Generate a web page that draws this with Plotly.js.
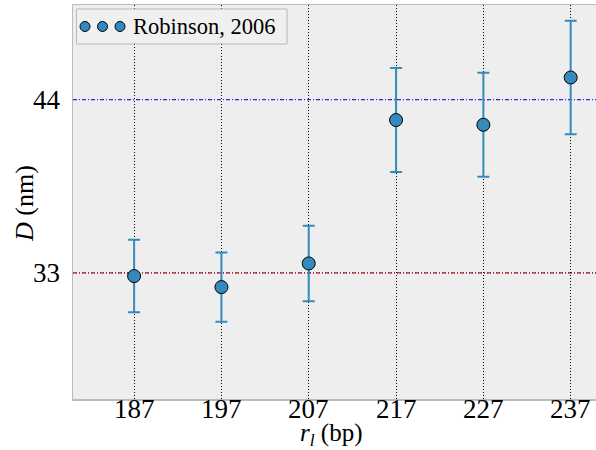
<!DOCTYPE html>
<html>
<head>
<meta charset="utf-8">
<script src="https://cdn.plot.ly/plotly-3.0.1.min.js"></script>
<style>
  html, body { margin: 0; padding: 0; background: #ffffff; }
  #chart { width: 596px; height: 450px; }
</style>
</head>
<body>
<div id="chart"></div>
<script>
// Loop length r_l (bp) and measured diameter D (nm) with symmetric errors
const loopLengths = [187, 197, 207, 217, 227, 237];
const diameters   = [32.8, 32.1, 33.6, 42.7, 42.4, 45.4];
const diamErrors  = [2.3, 2.2, 2.4, 3.3, 3.3, 3.6];
const seriesName  = "Robinson, 2006";

// Reference levels drawn as dash-dot lines
const refLevels = [44, 33];
const refColors = ["#2828f0", "#b01a2a"];

const xTicks = [187, 197, 207, 217, 227, 237];
const yTicks = [33, 44];

const W = 596, H = 450;
const M = { l: 73, r: 0, t: 5, b: 51 };
const PW = W - M.l - M.r, PH = H - M.t - M.b;
const px = x => (x - M.l) / PW;
const py = y => (H - M.b - y) / PH;

const FONT = "Liberation Serif, Times New Roman, serif";
const BLUE = "#348ABD";

const trace = {
  x: loopLengths,
  y: diameters,
  name: seriesName,
  type: "scatter",
  mode: "markers",
  marker: { size: 13, color: BLUE, line: { color: "#000000", width: 1 } },
  error_y: { type: "data", array: diamErrors, visible: true, color: BLUE, thickness: 2, width: 6 },
  showlegend: false,
  hoverinfo: "x+y"
};

// Dotted grid at 33 under its dash-dot level line; the 44 level carries its own line
const shapes = [{
  type: "line", xref: "paper", x0: 0, x1: 1, yref: "y", y0: yTicks[0], y1: yTicks[0],
  line: { color: "#000000", width: 1, dash: "1px,2px" }, layer: "below"
}];
refLevels.forEach((v, i) => {
  shapes.push({
    type: "line", xref: "paper", x0: 0, x1: 1, yref: "y", y0: v, y1: v,
    line: { color: refColors[i], width: 1.2, dash: "4px,2px,1px,2px" }, layer: "below"
  });
});

// Legend box with three sample markers
shapes.push({
  type: "rect", xref: "paper", yref: "paper",
  x0: px(76.5), x1: px(287), y0: py(44), y1: py(9),
  fillcolor: "#f0f0f0", line: { color: "#b8b8b8", width: 1 }, layer: "above"
});
[85, 102.5, 120].forEach(cx => {
  shapes.push({
    type: "circle", xref: "paper", yref: "paper",
    x0: px(cx - 5), x1: px(cx + 5), y0: py(31.5), y1: py(21.5),
    fillcolor: BLUE, line: { color: "#000000", width: 1 }, layer: "above"
  });
});

const annotations = [
  {
    xref: "paper", yref: "paper", x: px(131), y: py(26.5),
    xanchor: "left", yanchor: "middle", showarrow: false,
    text: seriesName, font: { family: FONT, size: 22.5, color: "#000000" }
  },
  {
    xref: "paper", yref: "paper", x: px(331), y: py(434),
    xanchor: "center", yanchor: "middle", showarrow: false,
    text: "<i>r</i><sub><i>l</i></sub> (bp)", font: { family: FONT, size: 25, color: "#000000" }
  },
  {
    xref: "paper", yref: "paper", x: px(24), y: py(204),
    xanchor: "center", yanchor: "middle", showarrow: false, textangle: -90,
    text: "<i>D</i> (nm)", font: { family: FONT, size: 26, color: "#000000" }
  }
];
// x tick labels, set just under the axis
xTicks.forEach(t => {
  annotations.push({
    xref: "x", yref: "paper", x: t, y: py(391.5),
    xanchor: "center", yanchor: "top", showarrow: false,
    text: String(t), font: { family: FONT, size: 27, color: "#000000" }
  });
});

const layout = {
  width: W, height: H,
  margin: M,
  paper_bgcolor: "#ffffff",
  plot_bgcolor: "#eeeeee",
  font: { family: FONT, color: "#000000" },
  xaxis: {
    range: [180, 239.9],
    tickvals: xTicks,
    showticklabels: false,
    ticks: "", ticklen: 0,
    showgrid: true, gridcolor: "#000000", griddash: "1px,2px", gridwidth: 1,
    zeroline: false,
    showline: true, mirror: true, linecolor: "#bcbcbc", linewidth: 1.5
  },
  yaxis: {
    range: [25, 50],
    tickvals: yTicks,
    ticktext: yTicks.map(String),
    tickfont: { family: FONT, size: 27 },
    ticks: "", ticklen: 0, ticklabelstandoff: 6,
    showgrid: false,
    zeroline: false,
    showline: true, mirror: true, linecolor: "#bcbcbc", linewidth: 1.5
  },
  shapes: shapes,
  annotations: annotations,
  showlegend: false
};

Plotly.newPlot("chart", [trace], layout, { displayModeBar: false, staticPlot: true });
</script>
</body>
</html>
